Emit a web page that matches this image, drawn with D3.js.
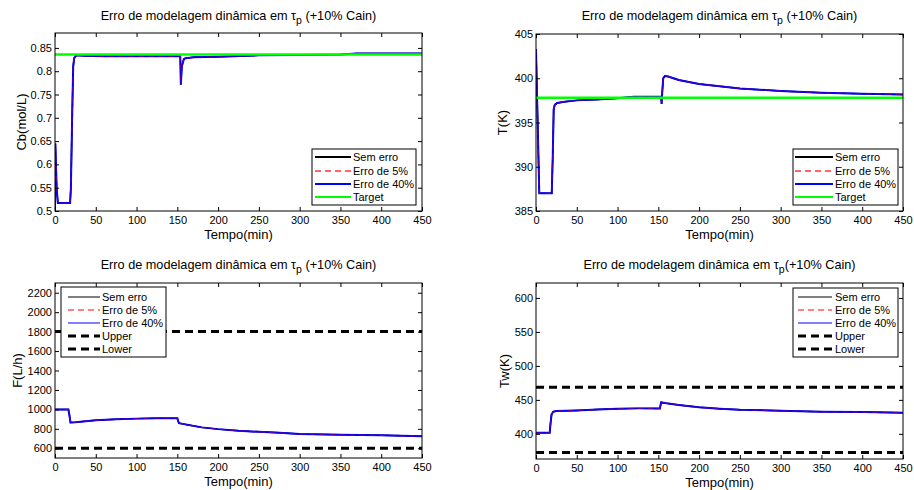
<!DOCTYPE html>
<head>
  <meta charset="utf-8">
  <script src="https://d3js.org/d3.v7.min.js"></script>
  <style>
    body { margin: 0; background: #fff; }
    text { font-family: 'Liberation Sans', Arial, sans-serif; fill: #000; }
    .tick text { font-size: 11px; }
    .tick line { stroke: #000; }
    .title { font-size: 12.7px; text-anchor: middle; }
    .xlabel, .ylabel { font-size: 13px; text-anchor: middle; }
    .leg text { font-size: 11px; }
  </style>
</head>
<body>
  <script>
    // time axis ticks (min)
    var xTicks = [0, 50, 100, 150, 200, 250, 300, 350, 400, 450];

    // Cb (mol/L)
    var tCb = [0, 0.4, 2, 3.5, 18.5, 19.5, 21, 22.3, 23.5, 26, 35, 60, 100, 153.6, 154, 154.3, 155.5, 158, 160, 170, 200, 250, 300, 350, 370, 400, 450];
    var cbValues = [0.5, 0.645, 0.55, 0.517, 0.517, 0.55, 0.70, 0.81, 0.828, 0.834, 0.833, 0.832, 0.832, 0.832, 0.80, 0.771, 0.81, 0.826, 0.828, 0.830, 0.831, 0.834, 0.835, 0.836, 0.838, 0.838, 0.838];
    var cbTarget = 0.836;
    var cbTicks = [0.5, 0.55, 0.6, 0.65, 0.7, 0.75, 0.8, 0.85];

    // T (K)
    var tT = [0, 4, 19.3, 20.5, 21.7, 23, 26, 35, 50, 75, 100, 120, 153.5, 154, 154.5, 156, 158, 162, 175, 200, 250, 300, 350, 400, 450];
    var tValues = [403.3, 387, 387, 391, 396.5, 397.0, 397.2, 397.35, 397.5, 397.6, 397.75, 397.9, 397.9, 397.1, 398, 400, 400.25, 400.2, 399.8, 399.35, 398.85, 398.55, 398.35, 398.25, 398.15];
    var tTarget = 397.8;
    var tTicks = [385, 390, 395, 400, 405];

    // F (L/h)
    var tF = [0, 16.4, 17.5, 19, 25, 50, 75, 100, 125, 150, 151, 152, 165, 180, 200, 225, 250, 275, 300, 350, 400, 450];
    var fValues = [1000, 1000, 950, 865, 868, 888, 898, 905, 910, 910, 880, 858, 838, 815, 797, 780, 769, 760, 748, 738, 733, 724];
    var fUpper = 1800, fLower = 600;
    var fTicks = [600, 800, 1000, 1200, 1400, 1600, 1800, 2000, 2200];

    // Tw (K)
    var tTw = [0, 16.8, 17.8, 19, 21, 25, 50, 75, 100, 125, 152, 152.5, 153.5, 160, 175, 200, 225, 250, 300, 350, 400, 450];
    var twValues = [401.5, 401.5, 415, 428, 432.5, 433.5, 434.5, 436, 437, 437.5, 437.5, 441, 446.3, 445, 442.5, 439, 437, 435.5, 434, 432.5, 432, 431];
    var twUpper = 468.5, twLower = 372.5;
    var twTicks = [400, 450, 500, 550, 600];

    var seriesNames = ["Sem erro", "Erro de 5%", "Erro de 40%"];

    var svg = d3.select("body").append("svg")
        .attr("width", 914)
        .attr("height", 490);

    function zip(ts, vs) {
      return ts.map(function(t, i) { return [t, vs[i]]; });
    }

    var panels = [
      { box: [55, 422, 33, 211], y: [0.5, 0.882], yTicks: cbTicks, t: tCb, v: cbValues,
        target: cbTarget, ylabel: "Cb(mol/L)", ylabelX: 26, titleY: 20, space: " ",
        legend: { x: 312, y: 149, w: 104, h: 56, lineX: [315, 351], textX: 353, rows: [157, 171, 184, 197] }, thickLeg: true },
      { box: [536, 903, 34, 211], y: [385, 405], yTicks: tTicks, t: tT, v: tValues,
        target: tTarget, ylabel: "T(K)", ylabelX: 507, titleY: 20, space: " ",
        legend: { x: 793, y: 149, w: 105, h: 56, lineX: [795, 833], textX: 835, rows: [157, 171, 184, 197] }, thickLeg: true },
      { box: [55, 422, 283, 458], y: [500, 2300], yTicks: fTicks, t: tF, v: fValues,
        bounds: [fUpper, fLower], ylabel: "F(L/h)", ylabelX: 22, titleY: 269, space: " ",
        legend: { x: 61, y: 287, w: 105, h: 70, lineX: [68, 100], textX: 102, rows: [297, 310, 323, 336, 349] } },
      { box: [536, 903, 283, 459], y: [363, 622], yTicks: twTicks, t: tTw, v: twValues,
        bounds: [twUpper, twLower], ylabel: "Tw(K)", ylabelX: 509, titleY: 269, space: "",
        legend: { x: 793, y: 288, w: 105, h: 69, lineX: [798, 832], textX: 835, rows: [297, 310, 323, 336, 349] } }
    ];

    panels.forEach(function(p, pi) {
      var left = p.box[0], right = p.box[1], top = p.box[2], bottom = p.box[3];
      var x = d3.scaleLinear().domain([0, 450]).range([left, right]);
      var y = d3.scaleLinear().domain(p.y).range([bottom, top]);
      var g = svg.append("g");

      g.append("clipPath").attr("id", "clip" + pi)
        .append("rect").attr("x", left).attr("y", top)
        .attr("width", right - left).attr("height", bottom - top);

      var plot = g.append("g").attr("clip-path", "url(#clip" + pi + ")");
      var line = d3.line().x(function(d) { return x(d[0]); }).y(function(d) { return y(d[1]); });
      var pts = zip(p.t, p.v);

      if (p.bounds) {
        p.bounds.forEach(function(b) {
          plot.append("path").datum([[0, b], [450, b]])
            .attr("d", line).attr("fill", "none").attr("stroke", "#000")
            .attr("stroke-width", 3).attr("stroke-dasharray", "8,5");
        });
      }

      plot.append("path").datum(pts).attr("d", line).attr("fill", "none")
        .attr("stroke", "#000").attr("stroke-width", 1.5);
      plot.append("path").datum(pts).attr("d", line).attr("fill", "none")
        .attr("stroke", "#0000ff").attr("stroke-width", 2);
      plot.append("path").datum(pts).attr("d", line).attr("fill", "none")
        .attr("stroke", "#ff0000").attr("stroke-opacity", 0.35).attr("stroke-width", 1.2)
        .attr("stroke-dasharray", "6,4");

      if (p.target != null) {
        plot.append("path").datum([[0, p.target], [450, p.target]])
          .attr("d", line).attr("fill", "none")
          .attr("stroke", "#00ff00").attr("stroke-width", 2.5);
      }

      // axes, ticks pointing inward on all four sides
      g.append("g").attr("transform", "translate(0," + bottom + ")")
        .call(d3.axisBottom(x).tickValues(xTicks).tickSizeInner(-4).tickSizeOuter(0).tickPadding(5))
        .call(function(a) { a.select(".domain").remove(); });
      g.append("g").attr("transform", "translate(0," + top + ")")
        .call(d3.axisTop(x).tickValues(xTicks).tickSizeInner(-4).tickSizeOuter(0).tickFormat(""))
        .call(function(a) { a.select(".domain").remove(); });
      g.append("g").attr("transform", "translate(" + left + ",0)")
        .call(d3.axisLeft(y).tickValues(p.yTicks).tickSizeInner(-4).tickSizeOuter(0).tickPadding(3).tickFormat(d3.format("")))
        .call(function(a) { a.select(".domain").remove(); });
      g.append("g").attr("transform", "translate(" + right + ",0)")
        .call(d3.axisRight(y).tickValues(p.yTicks).tickSizeInner(-4).tickSizeOuter(0).tickFormat(""))
        .call(function(a) { a.select(".domain").remove(); });

      g.append("rect").attr("x", left).attr("y", top)
        .attr("width", right - left).attr("height", bottom - top)
        .attr("fill", "none").attr("stroke", "#000").attr("stroke-width", 1);

      // title
      var cx = (left + right) / 2;
      var title = g.append("text").attr("class", "title").attr("x", cx).attr("y", p.titleY);
      title.append("tspan").text("Erro de modelagem dinâmica em τ");
      title.append("tspan").attr("dy", 4).attr("font-size", "10.5px").text("p");
      title.append("tspan").attr("dy", -4).text(p.space + "(+10% Cain)");

      g.append("text").attr("class", "xlabel").attr("x", cx).attr("y", bottom + 28).text("Tempo(min)");
      g.append("text").attr("class", "ylabel")
        .attr("transform", "translate(" + p.ylabelX + "," + ((top + bottom) / 2) + ") rotate(-90)")
        .text(p.ylabel);

      // legend
      var L = p.legend;
      var leg = g.append("g").attr("class", "leg");
      leg.append("rect").attr("x", L.x).attr("y", L.y).attr("width", L.w).attr("height", L.h)
        .attr("fill", "#fff").attr("stroke", "#000").attr("stroke-width", 1);
      var items = [
        { name: seriesNames[0], color: "#000", dash: null, w: p.thickLeg ? 2 : 1 },
        { name: seriesNames[1], color: "#ff0000", dash: "6,4", w: p.thickLeg ? 2 : 1, op: p.thickLeg ? 0.6 : 1 },
        { name: seriesNames[2], color: "#0000ff", dash: null, w: p.thickLeg ? 2 : 1 }
      ];
      if (p.target != null) {
        items.push({ name: "Target", color: "#00ff00", dash: null, w: 2 });
      } else {
        items.push({ name: "Upper", color: "#000", dash: "8,5", w: 3 });
        items.push({ name: "Lower", color: "#000", dash: "8,5", w: 3 });
      }
      items.forEach(function(it, i) {
        var yy = L.rows[i];
        leg.append("line").attr("x1", L.lineX[0]).attr("x2", L.lineX[1])
          .attr("y1", yy).attr("y2", yy)
          .attr("stroke", it.color).attr("stroke-width", it.w)
          .attr("stroke-opacity", it.op || 1)
          .attr("stroke-dasharray", it.dash);
        leg.append("text").attr("x", L.textX).attr("y", yy + 4).text(it.name);
      });
    });
  </script>
</body>
